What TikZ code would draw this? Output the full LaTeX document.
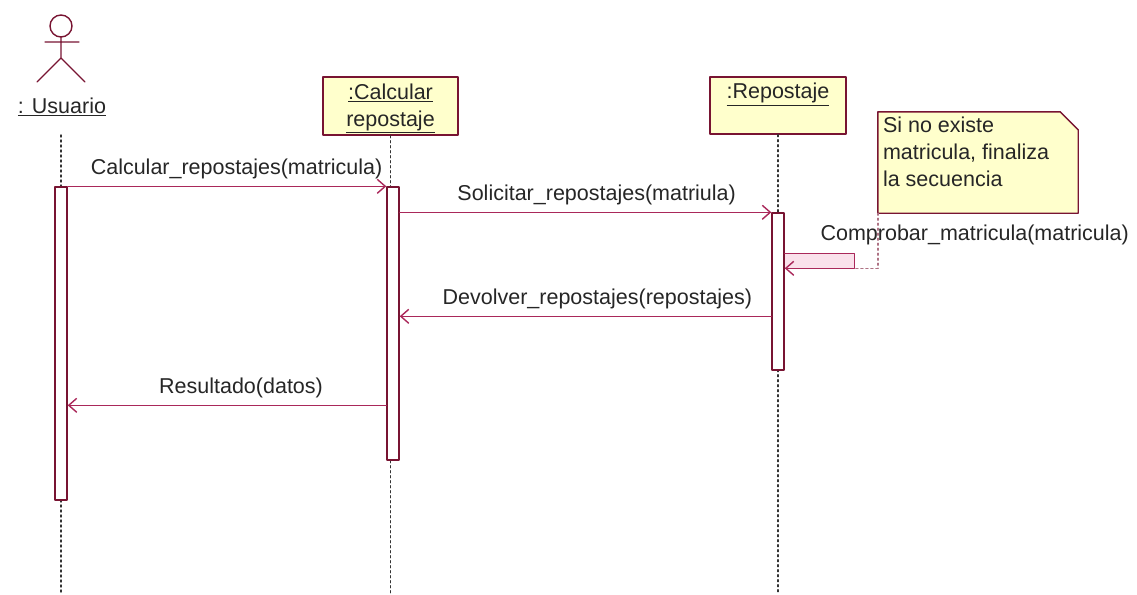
\documentclass[tikz,border=0pt]{standalone}
\usepackage{fontspec}
\setmainfont{Liberation Sans}
\usetikzlibrary{arrows.meta,calc}
\definecolor{borde}{RGB}{120,20,50}
\definecolor{mensaje}{RGB}{170,40,90}
\definecolor{amarillo}{RGB}{255,255,204}
\definecolor{rosa}{RGB}{250,225,235}
\begin{document}
\begin{tikzpicture}[x=1pt,y=-1pt,>={Straight Barb[length=8pt,width=14pt]}, font=\fontsize{21.5}{27}\selectfont, line join=round, line cap=round,
	obj/.style={draw=borde,fill=amarillo,line width=1.4pt,minimum width=135pt,minimum height=58pt,inner sep=0pt},
	act/.style={draw=borde,fill=white,line width=1.4pt,minimum width=12pt,inner sep=0pt},
	msg/.style={draw=mensaje,line width=1.4pt,->},
	life/.style={dash pattern=on 2pt off 3pt,line width=1.4pt,black!80},
	lbl/.style={inner sep=2pt,text=black!85}]
	\useasboundingbox (0,0) rectangle (1137,594);
	\coordinate (fin) at (0,594);
	% actor
	\coordinate (cabeza) at (61,26);
	\draw[borde,line width=1.4pt] (cabeza) circle[radius=11pt];
	\draw[borde,line width=1.4pt] (45,42)--(79,42) (61,37)--(61,58) (37,82)--(61,58)--(85,82);
	\node[lbl] (usuario) at (62,107) {\underline{: Usuario}};
	\node[obj] (calc) at (390.5,106) {};
	\node[lbl,align=center] (calctexto) at ([yshift=-2.5pt]calc.center) {\underline{:Calcular}\\\underline{repostaje}};
	\node[obj,minimum width=136pt,minimum height=57pt] (repo) at (778,105.5) {};
	\node[lbl] (repotexto) at ([yshift=-18pt]repo.north) {\underline{:Repostaje}};
	% lineas de vida
	\coordinate (vidaU) at (61,135);
	\draw[life] (vidaU) -- (vidaU |- fin);
	\foreach \o in {calc,repo} \draw[life] (\o.south) -- (\o.south |- fin);
	\node[act,minimum height=313pt] (actU) at (61,343.5) {};
	\node[act,minimum height=273pt] (actC) at (393,323.5) {};
	\node[act,minimum height=157pt] (actR) at (778,291.5) {};
	% mensajes
	\draw[msg] (actU.north east) -- (actC.north west) node[lbl,pos=0.53,above=5pt] (m1) {Calcular\_repostajes(matricula)};
	\draw[msg] (actC.east |- actR.north west) -- (actR.north west) node[lbl,pos=0.53,above=5pt] (m2) {Solicitar\_repostajes(matriula)};
	\coordinate (s1) at ($(actR.north east)+(0,41)$);
	\coordinate (s2) at ($(s1)+(70,15)$);
	\fill[rosa] (s1) rectangle (s2);
	\draw[msg] (s1) -- (s1 -| s2) -- (s2) -- (s2 -| actR.east);
	\node[lbl] (m3) at ($(s1)+(190,-18)$) {Comprobar\_matricula(matricula)};
	\coordinate (s3) at ($(actR.north west)+(0,104)$);
	\draw[msg] (s3) -- (s3 -| actC.east) node[lbl,pos=0.468,above=5pt] (m4) {Devolver\_repostajes(repostajes)};
	\coordinate (s4) at ($(actC.north west)+(0,219)$);
	\draw[msg] (s4) -- (s4 -| actU.east) node[lbl,pos=0.456,above=5pt] (m5) {Resultado(datos)};
	% nota
	\node[minimum width=200pt,minimum height=101pt,inner sep=0pt] (nota) at (978,162.5) {};
	\filldraw[fill=amarillo,draw=borde,line width=1.4pt] (nota.south west) -- (nota.north west) -- ([xshift=-18pt]nota.north east) -- ([yshift=-18pt]nota.north east) -- (nota.south east) -- cycle;
	\node[lbl,anchor=north west,align=left] (textonota) at ([xshift=3pt,yshift=-3pt]nota.north west) {Si no existe\\matricula, finaliza\\la secuencia};
	\draw[life,draw=borde!60] (nota.south west) |- (s2);
\end{tikzpicture}
\end{document}
